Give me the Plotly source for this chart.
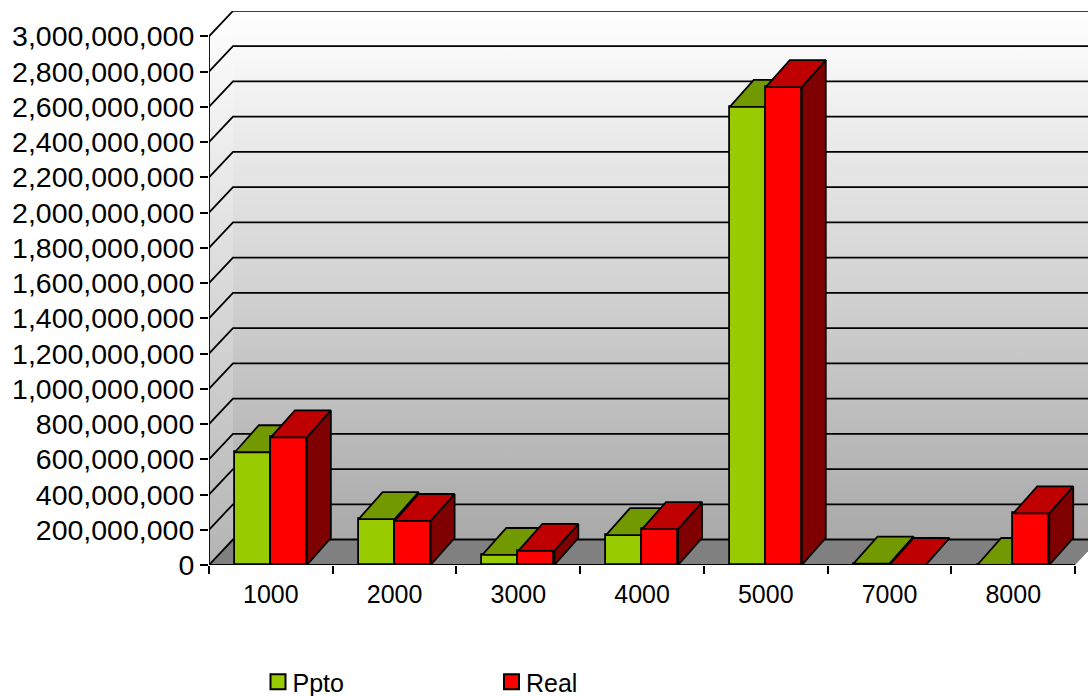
import plotly.graph_objects as go

categories = ["1000", "2000", "3000", "4000", "5000", "7000", "8000"]
ppto = [640e6, 260e6, 57e6, 170e6, 2600e6, 8e6, 0]
real = [724e6, 250e6, 80e6, 204e6, 2712e6, 0, 293e6]

# look of the chart
BAR_W = 0.291
PX_X = 123.8          # pixels per category
PX_Y = 35.27 / 200e6  # pixels per unit
DX = 24 / PX_X        # depth in category units
DY = 25.5 / PX_Y      # wall depth in value units
BAR_DY = 27 / PX_Y    # bar depth in value units
L, T, B0 = 208.5, 10.5, 565
XMAX = -0.5 + (1088 - L) / PX_X
YMAX = (B0 - T) / PX_Y
LINE = dict(color="black", width=1.8)
cx = list(range(len(categories)))
X0, X1 = -0.5, len(categories) - 0.5
YTOP = 3000e6

fig = go.Figure()


def poly(xs, ys, color=None, axes=("x", "y"), grad=None, line=LINE):
    kw = dict(fillgradient=grad) if grad else dict(fillcolor=color)
    fig.add_trace(go.Scatter(x=xs, y=ys, mode="lines", fill="toself", line=line,
                             xaxis=axes[0], yaxis=axes[1], showlegend=False,
                             hoverinfo="skip", cliponaxis=False, **kw))


# walls and floor
nolin = dict(color="rgba(0,0,0,0)", width=0)
poly([X0 + DX, X1 + DX, X1 + DX, X0 + DX, X0 + DX], [DY, DY, YTOP + DY, YTOP + DY, DY],
     grad=dict(type="vertical", colorscale=[[0, "#a9a9a9"], [1, "#ffffff"]]), line=nolin)
poly([X0, X0 + DX, X0 + DX, X0, X0], [0, DY, YTOP + DY, YTOP, 0],
     grad=dict(type="vertical", colorscale=[[0, "#b4b4b4"], [1, "#ffffff"]]), line=nolin)
poly([X0, X0 + DX, X1 + DX, X1, X0], [0, DY, DY, 0, 0], color="#808080", line=nolin)

# gridlines
gx, gy = [], []
for t in range(0, int(YTOP) + 1, int(200e6)):
    gx += [X0, X0 + DX, X1 + DX, None]
    gy += [t, t + DY, t + DY, None]
fig.add_trace(go.Scatter(x=gx, y=gy, mode="lines", line=LINE, showlegend=False,
                         hoverinfo="skip", cliponaxis=False))


def series(name, values, offset, front, top, side, axes):
    fig.add_trace(go.Bar(name=name, x=cx, y=values, width=BAR_W, offset=offset,
                         marker=dict(color=front, line=LINE), xaxis=axes[0], yaxis=axes[1],
                         cliponaxis=False, hoverinfo="skip", showlegend=False))
    tx, ty, sx, sy = [], [], [], []
    for c, v in zip(cx, values):
        a, b = c + offset, c + offset + BAR_W
        tx += [a, a + DX, b + DX, b, a, None]
        ty += [v, v + BAR_DY, v + BAR_DY, v, v, None]
        sx += [b, b + DX, b + DX, b, b, None]
        sy += [v, v + BAR_DY, BAR_DY, 0, v, None]
    poly(sx, sy, side, axes)
    poly(tx, ty, top, axes)
    # legend entry with the reference's larger square swatch
    fig.add_trace(go.Scatter(name=name, x=[None], y=[None], mode="markers",
                             marker=dict(symbol="square", size=15, color=front,
                                         line=dict(color="black", width=2)),
                             xaxis=axes[0], yaxis=axes[1], hoverinfo="skip"))


series("Ppto", ppto, -BAR_W, "#99cc00", "#729900", "#4c6600", ("x2", "y2"))
series("Real", real, 0, "#ff0000", "#bf0000", "#7f0000", ("x3", "y3"))

# axis lines above everything
fig.add_trace(go.Scatter(x=[X0, X1, None, X0, X0], y=[0, 0, None, 0, YTOP], mode="lines",
                         line=LINE, xaxis="x3", yaxis="y3", showlegend=False,
                         hoverinfo="skip", cliponaxis=False))

FONT = "Liberation Sans, Arial, sans-serif"
hidden = dict(visible=False, range=[X0, XMAX], fixedrange=True)
hiddeny = dict(visible=False, range=[0, YMAX], fixedrange=True)
fig.update_layout(
    width=1088, height=696,
    margin=dict(l=L, r=0, t=T, b=696 - B0, autoexpand=False),
    paper_bgcolor="white", plot_bgcolor="white",
    font=dict(family=FONT, color="black"),
    bargap=0, hovermode=False,
    xaxis=dict(range=[X0, XMAX], tickmode="array", tickvals=cx, ticktext=categories,
               ticks="", showgrid=False, zeroline=False, showline=False,
               tickfont=dict(size=25, family=FONT, color="black"), ticklabelstandoff=12,
               minor=dict(tick0=-0.5, dtick=1, ticks="outside", ticklen=8, tickwidth=1.5,
                          tickcolor="black", showgrid=False)),
    yaxis=dict(range=[0, YMAX], tick0=0, dtick=200e6, tickformat=",", ticks="outside",
               ticklen=8, tickwidth=1.5, tickcolor="black", showgrid=False, zeroline=False,
               showline=False, tickfont=dict(size=28.5, family=FONT, color="black")),
    xaxis2=dict(overlaying="x", anchor="y2", **hidden),
    yaxis2=dict(overlaying="y", anchor="x2", **hiddeny),
    xaxis3=dict(overlaying="x", anchor="y3", **hidden),
    yaxis3=dict(overlaying="y", anchor="x3", **hiddeny),
    legend=dict(orientation="h", xref="container", yref="container", x=249.5 / 1088,
                xanchor="left", y=1 - 659 / 696, yanchor="top", entrywidth=180,
                entrywidthmode="pixels", indentation=8.5,
                font=dict(size=25, family=FONT, color="black"),
                bgcolor="rgba(0,0,0,0)", traceorder="normal"),
)
# page margin off; legend text sits closer to its swatch than plotly's fixed gap
post = """
document.body.style.margin = '0';
(function () {
  var gd = document.querySelector('.plotly-graph-div');
  function nudge() {
    gd.querySelectorAll('.legendtext').forEach(function (t) {
      if (!t.dataset.nudged) {
        t.setAttribute('x', parseFloat(t.getAttribute('x')) - 5.5);
        t.dataset.nudged = '1';
      }
    });
  }
  nudge();
  gd.on('plotly_afterplot', nudge);
})();
"""
fig.write_html("out.html", post_script=post, config=dict(displayModeBar=False))
